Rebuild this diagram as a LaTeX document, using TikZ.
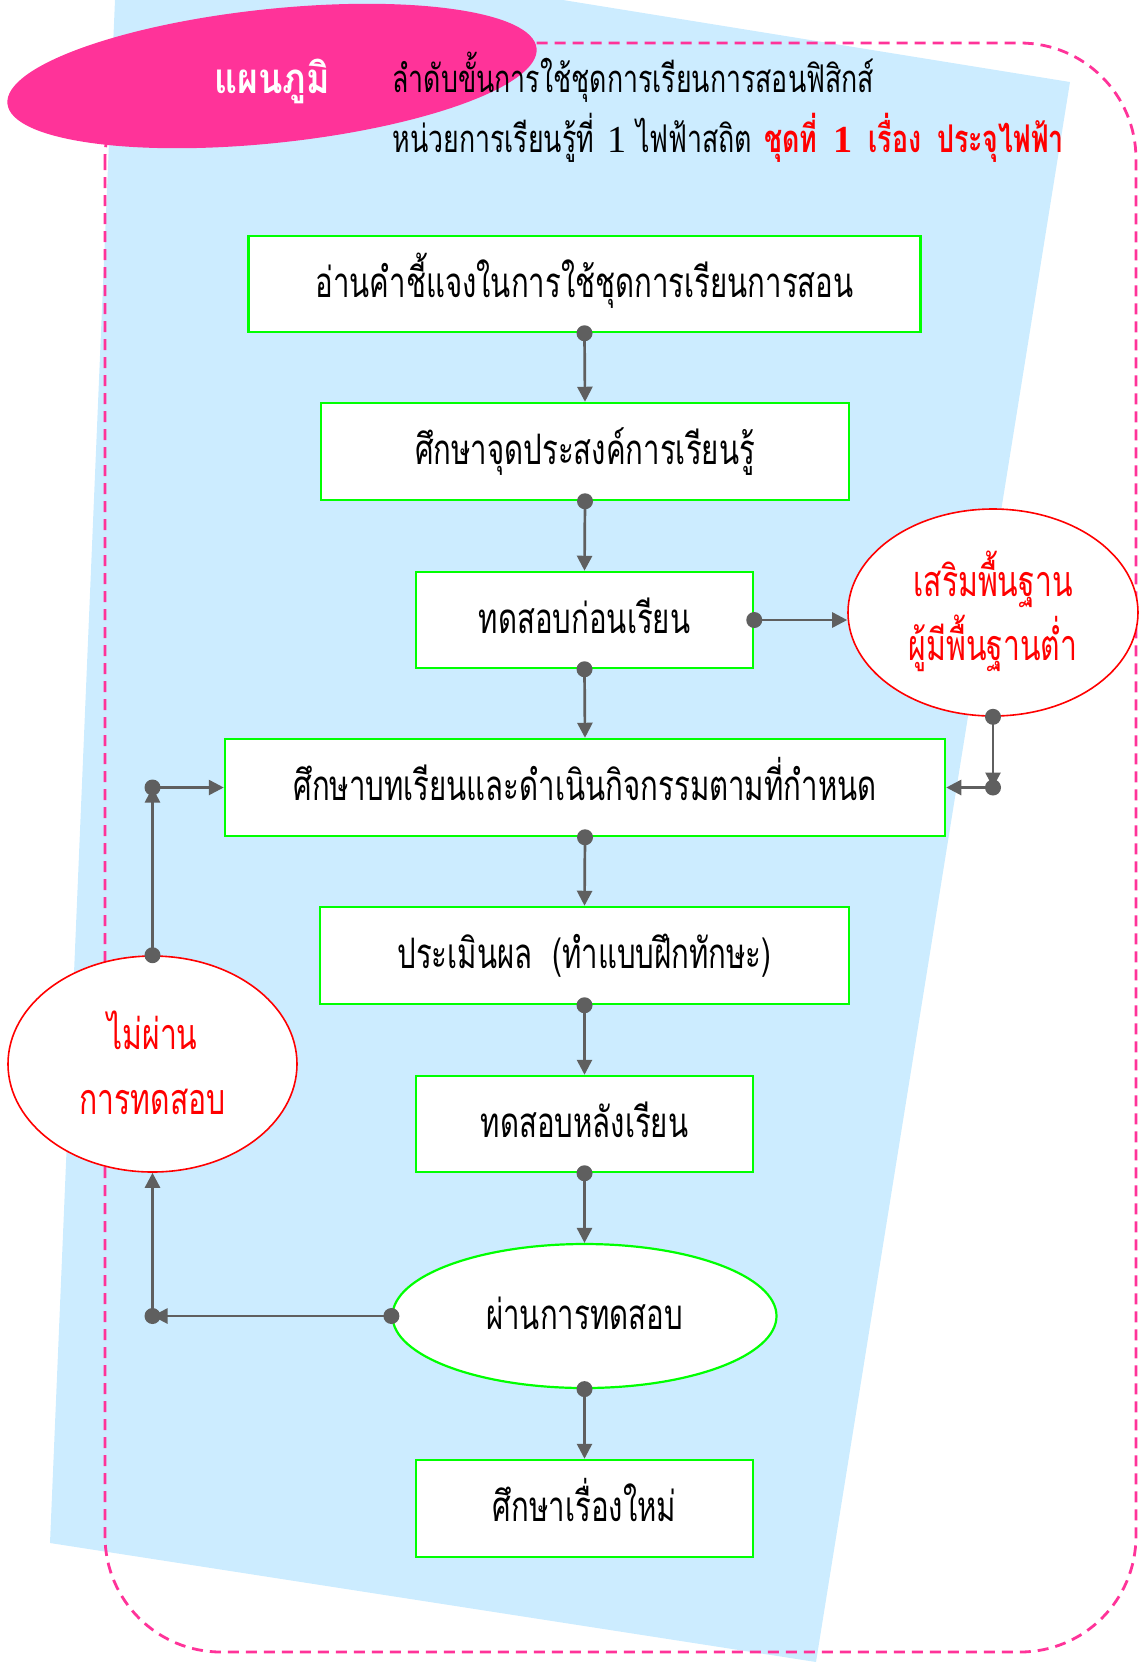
\documentclass[tikz,border=0pt]{standalone}
\usepackage{fontspec}
\newfontfamily\thai[Script=Thai,FakeStretch=0.7]{Loma}
\newfontfamily\thaiw[Script=Thai,FakeStretch=0.85]{Loma}
\newfontfamily\lat{Liberation Serif}
\usetikzlibrary{shapes.geometric,arrows.meta}
\definecolor{bluebg}{HTML}{CCECFF}
\definecolor{pinkc}{HTML}{FF3399}
\definecolor{greenc}{HTML}{00FF00}
\definecolor{redc}{HTML}{FF0000}
\definecolor{grayc}{HTML}{5F5F5F}
\tikzset{
  boxnode/.style={draw=greenc, fill=white, line width=1.25pt, rectangle, inner sep=0pt,
    font=\thai\fontsize{21}{24}\selectfont, text height=13pt, text depth=0pt},
  passnode/.style={draw=greenc, fill=white, line width=1.1pt, ellipse, inner sep=0pt,
    font=\thai\fontsize{21}{24}\selectfont, text height=13pt, text depth=0pt},
  failnode/.style={draw=redc, fill=white, line width=0.8pt, ellipse, inner sep=0pt,
    text=redc, align=center},
  conn/.style={draw=grayc, line width=1.35pt, -{Triangle[length=7.5pt,width=7.5pt]}},
  dotc/.style={fill=grayc},
}
\begin{document}
\begin{tikzpicture}[x=0.5pt,y=-0.5pt]
\useasboundingbox (0,0) rectangle (1139,1662);
\clip (0,0) rectangle (1139,1662);
% background
\fill[bluebg] (115,0) -- (563,0) -- (1070,82) -- (816,1662) -- (50,1543) -- cycle;
\draw[pinkc, line width=1.4pt, dash pattern=on 5.5pt off 3.5pt, rounded corners=58pt]
  (105,43) rectangle (1136,1652);
% title
\node[ellipse, fill=pinkc, minimum width=266pt, minimum height=67pt, inner sep=0pt, rotate=6] (title) at (272,76) {};
\node[anchor=base, text=white, font=\thaiw\bfseries\fontsize{21}{24}\selectfont] (titletext) at (272,93) {แผนภูมิ};
\node[anchor=base west, font=\thai\fontsize{19.1}{22}\selectfont, inner sep=0pt] (head1) at (392,92)
  {ลำดับขั้นการใช้ชุดการเรียนการสอนฟิสิกส์};
\node[anchor=base west, font=\thai\fontsize{19.1}{22}\selectfont, inner sep=0pt] (head2) at (392,152)
  {หน่วยการเรียนรู้ที่\hspace{7pt}{\lat 1} ไฟฟ้าสถิต\hspace{6pt}\textcolor{redc}{\bfseries ชุดที่\hspace{8pt}{\lat\bfseries 1}\hspace{8pt}เรื่อง\hspace{8pt}ประจุไฟฟ้า}};
% flow nodes
\node[boxnode, minimum width=336pt, minimum height=48pt] (b1) at (584.5,284) {อ่านคำชี้แจงในการใช้ชุดการเรียนการสอน};
\node[boxnode, minimum width=264pt, minimum height=48.5pt] (b2) at (585,451.5) {ศึกษาจุดประสงค์การเรียนรู้};
\node[boxnode, minimum width=168.5pt, minimum height=48pt] (b3) at (584.5,620) {ทดสอบก่อนเรียน};
\node[boxnode, minimum width=360pt, minimum height=48.5pt] (b4) at (585,787.5) {ศึกษาบทเรียนและดำเนินกิจกรรมตามที่กำหนด};
\node[boxnode, minimum width=264.5pt, minimum height=48.5pt] (b5) at (584.5,955.5) {ประเมินผล\ \ (ทำแบบฝึกทักษะ)};
\node[boxnode, minimum width=168.5pt, minimum height=48pt] (b6) at (584.5,1124) {ทดสอบหลังเรียน};
\node[passnode, minimum width=192pt, minimum height=72pt] (e) at (584.5,1316) {ผ่านการทดสอบ};
\node[boxnode, minimum width=168.5pt, minimum height=48.5pt] (b7) at (584.5,1508.5) {ศึกษาเรื่องใหม่};
\node[failnode, minimum width=145pt, minimum height=103.5pt,
  font=\thai\fontsize{21.5}{32}\selectfont, text height=47.5pt, text depth=0pt] (c1) at (993,612.5)
  {เสริมพื้นฐาน\\ผู้มีพื้นฐานต่ำ};
\node[failnode, minimum width=144.5pt, minimum height=108pt,
  font=\thai\fontsize{21.5}{32.5}\selectfont, text height=50pt, text depth=0pt] (n1) at (152.5,1064)
  {ไม่ผ่าน\\การทดสอบ};
% junction points
\coordinate (jr) at (c1.south |- b4.east);
\coordinate (jl) at (n1.north |- b4.west);
\coordinate (jb) at (n1.south |- e.west);
\coordinate (ci) at (c1.west |- b3.east);
% connectors
\draw[conn] (b1.south) -- (b2.north);
\draw[conn] (b2.south) -- (b3.north);
\draw[conn] (b3.south) -- (b4.north);
\draw[conn] (b4.south) -- (b5.north);
\draw[conn] (b5.south) -- (b6.north);
\draw[conn] (b6.south) -- (e.north);
\draw[conn] (e.south) -- (b7.north);
\draw[conn] (b3.east) -- (ci);
\draw[conn] (c1.south) -- (jr);
\draw[conn] (jr) -- (b4.east);
\draw[conn] (n1.north) -- (jl);
\draw[conn] (jl) -- (b4.west);
\draw[conn] (e.west) -- (jb);
\draw[conn] (jb) -- (n1.south);
% dots
\foreach \p in {b1.south,b2.south,b3.south,b4.south,b5.south,b6.south,e.south,b3.east,c1.south,jr,n1.north,jl,e.west,jb}
  \fill[dotc] (\p) circle (4pt);
\end{tikzpicture}
\end{document}
